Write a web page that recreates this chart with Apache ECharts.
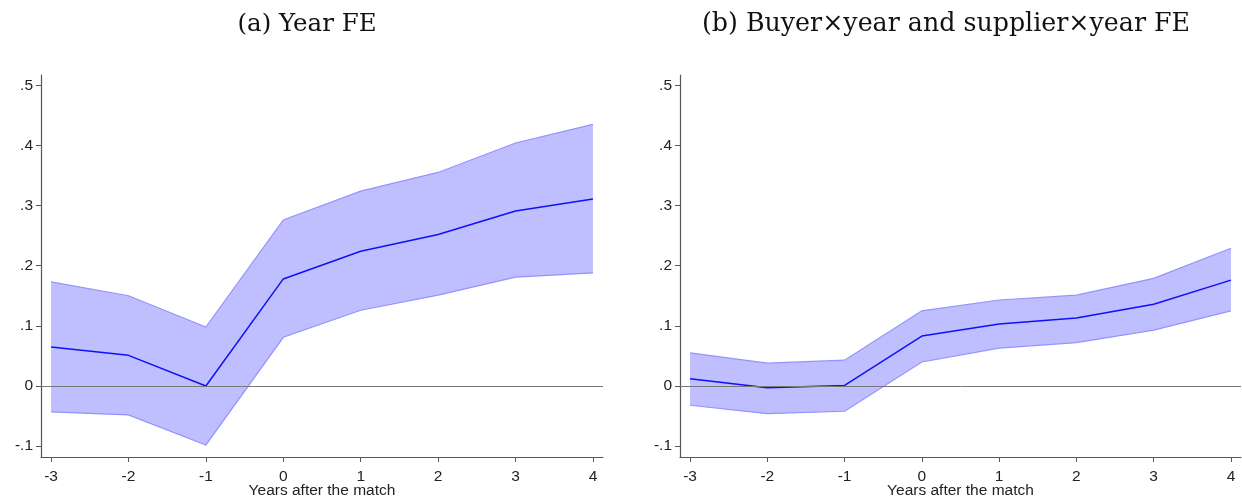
<!DOCTYPE html>
<html>
<head>
<meta charset="utf-8">
<script src="https://cdn.jsdelivr.net/npm/echarts@6/dist/echarts.min.js"></script>
<style>
  html, body { margin: 0; padding: 0; background: #ffffff; }
  #chart { width: 1242px; height: 499px; }
</style>
</head>
<body>
<div id="chart"></div>
<script>
// Event-study estimates: years relative to the match
const years = [-3, -2, -1, 0, 1, 2, 3, 4];

// (a) Year FE
const coefA  = [0.065, 0.051, 0.000, 0.178, 0.224, 0.252, 0.291, 0.311];
const upperA = [0.173, 0.150, 0.098, 0.276, 0.324, 0.355, 0.404, 0.435];
const lowerA = [-0.043, -0.048, -0.098, 0.081, 0.126, 0.151, 0.181, 0.188];

// (b) Buyer x year and supplier x year FE
const coefB  = [0.012, -0.003, 0.001, 0.083, 0.103, 0.113, 0.136, 0.176];
const upperB = [0.055, 0.038, 0.043, 0.125, 0.143, 0.151, 0.179, 0.229];
const lowerB = [-0.032, -0.046, -0.042, 0.040, 0.063, 0.072, 0.093, 0.125];

const yTicks = [-0.1, 0, 0.1, 0.2, 0.3, 0.4, 0.5];
const titles = ['(a) Year FE', '(b) Buyer\u00d7year and supplier\u00d7year FE'];
const xName = 'Years after the match';

const fillColor = '#bfbfff';
const edgeColor = '#9393ff';
const lineColor = '#1010f5';
const axisColor = '#555555';
const textColor = '#222222';
const labelFont = 'Liberation Sans';

function yLabel(v) {
  if (Math.abs(v) < 1e-9) return '0';
  const s = (Math.round(v * 10) / 10).toString();
  return s.replace('0.', '.');
}

function xAxisFor(i) {
  return {
    type: 'value', gridIndex: i, min: -3.13, max: 4.13,
    name: xName, nameLocation: 'middle', nameGap: 26, nameMoveOverlap: false,
    nameTextStyle: { fontFamily: labelFont, fontSize: 15.5, color: textColor },
    axisLine: { show: true, onZero: false, lineStyle: { color: axisColor, width: 1.2 } },
    axisTick: { show: true, customValues: years, length: 5, lineStyle: { color: axisColor } },
    axisLabel: { customValues: years, fontFamily: labelFont, fontSize: 15.5, color: textColor, margin: 12,
                 formatter: v => String(Math.round(v)) },
    splitLine: { show: false }
  };
}

function yAxisFor(i) {
  return {
    type: 'value', gridIndex: i, min: -0.118, max: 0.517,
    axisLine: { show: true, onZero: false, lineStyle: { color: axisColor, width: 1.2 } },
    axisTick: { show: true, customValues: yTicks, length: 5, lineStyle: { color: axisColor } },
    axisLabel: { customValues: yTicks, fontFamily: labelFont, fontSize: 15.5, color: textColor, margin: 8,
                 formatter: yLabel },
    splitLine: { show: false }
  };
}

function pairs(vals) { return years.map((x, k) => [x, vals[k]]); }

// Confidence band: one polygon (upper edge forward, lower edge back) plus its two edge lines
function bandRenderer(lower, upper) {
  return function (params, api) {
    const up = years.map((x, k) => api.coord([x, upper[k]]));
    const lo = years.map((x, k) => api.coord([x, lower[k]]));
    const poly = up.concat(lo.slice().reverse());
    return {
      type: 'group',
      children: [
        { type: 'polygon', shape: { points: poly }, style: { fill: fillColor, stroke: 'none' } },
        { type: 'polyline', shape: { points: up }, style: { stroke: edgeColor, lineWidth: 1.2, fill: 'none' } },
        { type: 'polyline', shape: { points: lo }, style: { stroke: edgeColor, lineWidth: 1.2, fill: 'none' } }
      ]
    };
  };
}

function bandSeries(i, lower, upper, coef) {
  return [
    {
      type: 'custom', xAxisIndex: i, yAxisIndex: i, silent: true, z: 2,
      data: [[years[0], lower[0]]],
      renderItem: bandRenderer(lower, upper)
    },
    {
      type: 'line', xAxisIndex: i, yAxisIndex: i,
      data: pairs(coef), symbol: 'none', silent: true,
      lineStyle: { color: lineColor, width: 1.5 }, z: 4,
      markLine: {
        silent: true, symbol: 'none', label: { show: false },
        lineStyle: { color: '#777777', width: 1, type: 'solid' },
        data: [{ yAxis: 0 }]
      }
    }
  ];
}

const chart = echarts.init(document.getElementById('chart'), null, { renderer: 'canvas' });
chart.setOption({
  backgroundColor: '#ffffff',
  animation: false,
  title: [
    { text: titles[0], left: 302, top: 7, textAlign: 'center',
      textStyle: { fontFamily: 'DejaVu Serif', fontWeight: 'normal', fontSize: 24.5, color: '#111111' } },
    { text: titles[1], left: 941, top: 7, textAlign: 'center',
      textStyle: { fontFamily: 'DejaVu Serif', fontWeight: 'normal', fontSize: 25.3, color: '#111111' } }
  ],
  grid: [
    { left: 41, top: 75, width: 562, height: 382, outerBoundsMode: 'none', containLabel: false },
    { left: 680, top: 75, width: 561, height: 382, outerBoundsMode: 'none', containLabel: false }
  ],
  xAxis: [xAxisFor(0), xAxisFor(1)],
  yAxis: [yAxisFor(0), yAxisFor(1)],
  series: [
    ...bandSeries(0, lowerA, upperA, coefA),
    ...bandSeries(1, lowerB, upperB, coefB)
  ]
});
</script>
</body>
</html>
